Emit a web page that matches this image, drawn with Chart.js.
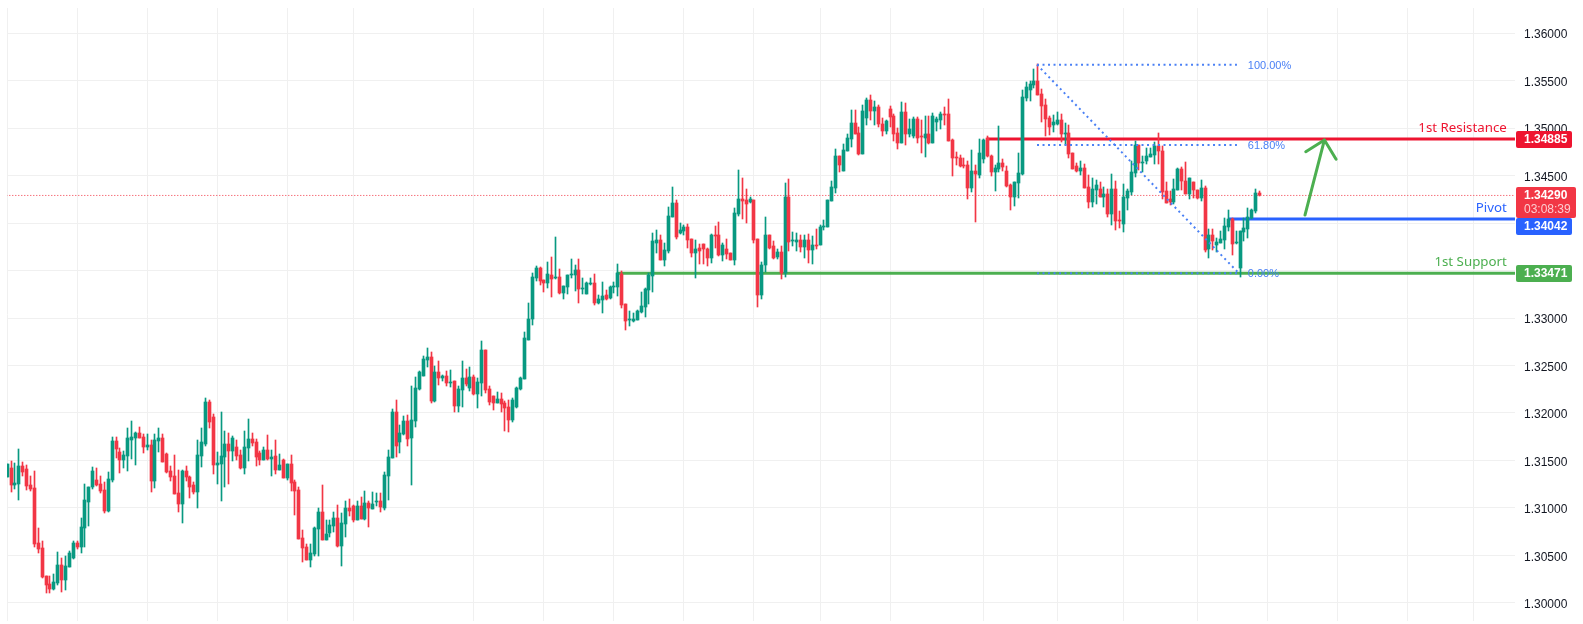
<!DOCTYPE html>
<html>
<head>
<meta charset="utf-8">
<title>Chart</title>
<script src="https://cdn.jsdelivr.net/npm/chart.js@4/dist/chart.umd.min.js"></script>
<style>
  html, body { margin: 0; padding: 0; background: #fff; }
  canvas { display: block; }
</style>
</head>
<body>
<canvas id="chart" width="1583" height="624"></canvas>
<script>
// ====== DATA ======
const opens = [
1.31329,1.31421,1.31242,1.31252,1.31442,1.31410,1.31242,1.31210,1.30631,1.30578,
1.30284,1.30199,1.30147,1.30210,1.30400,1.30242,1.30378,1.30473,1.30631,1.30589,
1.30789,1.31063,1.31221,1.31294,1.31252,1.31189,1.30968,1.31294,1.31705,1.31589,
1.31505,1.31547,1.31715,1.31736,1.31789,1.31747,1.31642,1.31663,1.31284,1.31705,
1.31736,1.31568,1.31389,1.31336,1.31158,1.31042,1.31389,1.31326,1.31242,1.31168,
1.31547,1.31673,1.32115,1.31957,1.31452,1.31463,1.31536,1.31673,1.31600,1.31642,
1.31557,1.31421,1.31631,1.31726,1.31694,1.31579,1.31505,1.31610,1.31515,1.31547,
1.31400,1.31505,1.31315,1.31463,1.31273,1.31189,1.30684,1.30589,1.30452,1.30515,
1.30779,1.30958,1.30663,1.30737,1.30811,1.30895,1.30600,1.30832,1.31000,1.31021,
1.30874,1.31021,1.30884,1.31053,1.30990,1.31063,1.31074,1.31000,1.31337,1.31526,
1.32011,1.31695,1.31779,1.31916,1.31737,1.31916,1.32253,1.32390,1.32558,1.32590,
1.32127,1.32432,1.32369,1.32390,1.32316,1.32337,1.32074,1.32242,1.32369,1.32263,
1.32379,1.32200,1.32316,1.32663,1.32253,1.32179,1.32106,1.32148,1.32106,1.32063,
1.31927,1.32063,1.32253,1.32358,1.32768,1.32989,1.33421,1.33526,1.33400,1.33368,
1.33452,1.33421,1.33431,1.33263,1.33326,1.33452,1.33452,1.33505,1.33305,1.33252,
1.33358,1.33368,1.33158,1.33189,1.33242,1.33210,1.33326,1.33326,1.33463,1.33147,
1.32979,1.32968,1.32979,1.33063,1.33116,1.33294,1.33442,1.33789,1.33821,1.33610,
1.33705,1.34063,1.34210,1.33894,1.33915,1.33958,1.33831,1.33684,1.33737,1.33779,
1.33726,1.33631,1.33873,1.33873,1.33663,1.33726,1.33684,1.33610,1.34095,1.34252,
1.34242,1.34221,1.34242,1.33831,1.33242,1.33558,1.33873,1.33758,1.33642,1.33694,
1.33473,1.34273,1.33810,1.33800,1.33821,1.33747,1.33821,1.33715,1.33768,1.33768,
1.33958,1.33958,1.34231,1.34368,1.34705,1.34547,1.34758,1.34884,1.35052,1.34947,
1.34726,1.35105,1.35294,1.35179,1.35221,1.35042,1.34968,1.35200,1.35126,1.34947,
1.34842,1.35168,1.34937,1.34915,1.35095,1.34915,1.34894,1.34937,1.34842,1.35063,
1.35084,1.35147,1.35147,1.34873,1.34694,1.34684,1.34610,1.34610,1.34368,1.34547,
1.34505,1.34673,1.34894,1.34705,1.34537,1.34568,1.34631,1.34547,1.34400,1.34273,
1.34421,1.34516,1.35316,1.35400,1.35453,1.35495,1.35358,1.35242,1.35105,1.35031,
1.35042,1.35084,1.34937,1.34947,1.34737,1.34600,1.34547,1.34579,1.34379,1.34221,
1.34347,1.34358,1.34274,1.34305,1.34095,1.34358,1.34032,1.33989,1.34263,1.34326,
1.34526,1.34821,1.34632,1.34653,1.34695,1.34716,1.34810,1.34758,1.34337,1.34253,
1.34221,1.34347,1.34568,1.34442,1.34305,1.34432,1.34347,1.34263,1.34368,1.33726,
1.33874,1.33768,1.33789,1.33821,1.33958,1.34042,1.33789,1.33526,1.33905,1.33937,
1.34053,1.34126,1.34316];
const highs = [
1.31463,1.31494,1.31473,1.31621,1.31484,1.31452,1.31336,1.31389,1.30789,1.30652,
1.30284,1.30284,1.30305,1.30536,1.30473,1.30494,1.30547,1.30652,1.30652,1.30894,
1.31252,1.31221,1.31431,1.31421,1.31336,1.31273,1.31379,1.31747,1.31747,1.31631,
1.31600,1.31842,1.31915,1.31800,1.31852,1.31779,1.31779,1.31715,1.31779,1.31842,
1.31779,1.31579,1.31442,1.31557,1.31400,1.31400,1.31442,1.31336,1.31273,1.31715,
1.31842,1.32157,1.32136,1.31989,1.31589,1.32010,1.31810,1.31789,1.31757,1.31715,
1.31610,1.31810,1.31936,1.31789,1.31726,1.31600,1.31642,1.31768,1.31610,1.31715,
1.31568,1.31515,1.31463,1.31557,1.31294,1.31221,1.30768,1.30621,1.30621,1.30800,
1.31000,1.31242,1.30874,1.30874,1.30958,1.31032,1.30947,1.31074,1.31095,1.31032,
1.31074,1.31116,1.31179,1.31074,1.31169,1.31158,1.31158,1.31379,1.31611,1.32042,
1.32137,1.31874,1.31969,1.31979,1.32284,1.32379,1.32442,1.32600,1.32684,1.32642,
1.32495,1.32548,1.32400,1.32442,1.32453,1.32337,1.32284,1.32548,1.32463,1.32484,
1.32400,1.32369,1.32758,1.32663,1.32284,1.32179,1.32221,1.32211,1.32127,1.32137,
1.32158,1.32274,1.32379,1.32853,1.33158,1.33473,1.33547,1.33537,1.33400,1.33589,
1.33642,1.33852,1.33515,1.33337,1.33452,1.33621,1.33558,1.33621,1.33421,1.33379,
1.33421,1.33463,1.33242,1.33379,1.33294,1.33337,1.33379,1.33568,1.33494,1.33147,
1.33073,1.33052,1.33084,1.33273,1.33315,1.33473,1.33894,1.33926,1.33873,1.33789,
1.34168,1.34379,1.34242,1.34000,1.33979,1.33989,1.33831,1.33821,1.33779,1.33779,
1.33737,1.33884,1.33968,1.34010,1.33789,1.33831,1.33684,1.34158,1.34558,1.34473,
1.34358,1.34273,1.34242,1.33831,1.33589,1.34063,1.33873,1.33810,1.33726,1.33758,
1.34421,1.34463,1.33905,1.33894,1.33873,1.33873,1.33884,1.33863,1.33936,1.33979,
1.34031,1.34242,1.34442,1.34779,1.34705,1.34831,1.34937,1.35189,1.35189,1.35010,
1.35242,1.35315,1.35347,1.35284,1.35242,1.35105,1.35084,1.35231,1.35147,1.35000,
1.35273,1.35263,1.35095,1.35116,1.35116,1.35084,1.35126,1.35126,1.35158,1.35116,
1.35168,1.35221,1.35305,1.34884,1.34747,1.34715,1.34684,1.34652,1.34768,1.34610,
1.34884,1.34884,1.34915,1.34715,1.34610,1.35021,1.34673,1.34600,1.34410,1.34431,
1.34737,1.35400,1.35484,1.35495,1.35621,1.35674,1.35410,1.35305,1.35126,1.35137,
1.35168,1.35147,1.35053,1.35031,1.34737,1.34631,1.34653,1.34621,1.34505,1.34474,
1.34453,1.34432,1.34379,1.34358,1.34516,1.34442,1.34126,1.34410,1.34358,1.34653,
1.34863,1.34821,1.34705,1.34789,1.34789,1.34853,1.34947,1.34810,1.34432,1.34337,
1.34463,1.34579,1.34589,1.34642,1.34474,1.34432,1.34347,1.34453,1.34389,1.33937,
1.33937,1.33842,1.33916,1.34053,1.34137,1.34053,1.33916,1.33916,1.34053,1.34158,
1.34147,1.34358,1.34337];
const lows = [
1.31329,1.31168,1.31200,1.31084,1.31336,1.31189,1.31179,1.30589,1.30526,1.30263,
1.30105,1.30105,1.30136,1.30189,1.30115,1.30136,1.30378,1.30463,1.30568,1.30526,
1.30589,1.30810,1.31200,1.31231,1.31158,1.30947,1.30957,1.31273,1.31526,1.31368,
1.31421,1.31389,1.31515,1.31452,1.31736,1.31579,1.31610,1.31168,1.31210,1.31589,
1.31484,1.31368,1.31284,1.31147,1.30957,1.30842,1.31284,1.31105,1.31147,1.31000,
1.31431,1.31652,1.31842,1.31357,1.31252,1.31073,1.31221,1.31252,1.31494,1.31505,
1.31410,1.31357,1.31494,1.31652,1.31442,1.31452,1.31505,1.31505,1.31336,1.31357,
1.31400,1.31315,1.31294,1.31179,1.30926,1.30673,1.30431,1.30452,1.30378,1.30494,
1.30494,1.30663,1.30663,1.30695,1.30748,1.30590,1.30390,1.30695,1.30916,1.30853,
1.30874,1.30884,1.30874,1.30800,1.30990,1.31021,1.30958,1.30979,1.31084,1.31526,
1.31537,1.31579,1.31769,1.31653,1.31242,1.31853,1.32242,1.32390,1.32484,1.32106,
1.32116,1.32295,1.32337,1.32284,1.32274,1.32011,1.32011,1.32063,1.32284,1.32232,
1.32190,1.32053,1.32179,1.32211,1.32084,1.32032,1.32106,1.32011,1.31811,1.31800,
1.31906,1.32053,1.32242,1.32358,1.32768,1.32926,1.33389,1.33347,1.33273,1.33315,
1.33221,1.33410,1.33252,1.33200,1.33252,1.33421,1.33284,1.33158,1.33252,1.33252,
1.33347,1.33137,1.33147,1.33052,1.33189,1.33200,1.33263,1.33231,1.33105,1.32873,
1.32916,1.32958,1.32979,1.33052,1.33010,1.33147,1.33273,1.33684,1.33610,1.33547,
1.33684,1.34063,1.33831,1.33884,1.33873,1.33737,1.33642,1.33421,1.33568,1.33568,
1.33547,1.33579,1.33737,1.33652,1.33600,1.33621,1.33610,1.33558,1.34073,1.34042,
1.34000,1.34210,1.33789,1.33116,1.33200,1.33484,1.33726,1.33621,1.33621,1.33410,
1.33431,1.33705,1.33758,1.33705,1.33694,1.33631,1.33579,1.33568,1.33726,1.33768,
1.33926,1.33958,1.34231,1.34316,1.34537,1.34547,1.34758,1.34800,1.34937,1.34715,
1.34726,1.35031,1.35084,1.35031,1.35010,1.34915,1.34937,1.35010,1.34863,1.34779,
1.34842,1.34821,1.34905,1.34894,1.34842,1.34737,1.34694,1.34831,1.34842,1.34968,
1.34989,1.35031,1.34863,1.34494,1.34610,1.34589,1.34579,1.34252,1.34326,1.34010,
1.34473,1.34631,1.34694,1.34494,1.34337,1.34537,1.34547,1.34379,1.34137,1.34179,
1.34263,1.34505,1.35284,1.35284,1.35421,1.35347,1.35063,1.34916,1.34926,1.34958,
1.35031,1.34853,1.34821,1.34684,1.34568,1.34537,1.34505,1.34368,1.34158,1.34168,
1.34200,1.34274,1.34168,1.34063,1.33979,1.33926,1.33947,1.33905,1.34137,1.34295,
1.34484,1.34558,1.34537,1.34621,1.34695,1.34621,1.34621,1.34253,1.34210,1.34189,
1.34200,1.34347,1.34347,1.34305,1.34253,1.34263,1.34253,1.34232,1.33695,1.33632,
1.33716,1.33695,1.33789,1.33726,1.33916,1.33663,1.33779,1.33431,1.33810,1.33842,
1.34042,1.34105,1.34284];
const closes = [
1.31463,1.31242,1.31263,1.31442,1.31379,1.31231,1.31200,1.30621,1.30568,1.30273,
1.30189,1.30147,1.30221,1.30400,1.30242,1.30389,1.30526,1.30631,1.30589,1.30800,
1.31084,1.31221,1.31389,1.31242,1.31179,1.30968,1.31305,1.31705,1.31621,1.31505,
1.31557,1.31736,1.31747,1.31789,1.31736,1.31642,1.31663,1.31284,1.31715,1.31736,
1.31484,1.31379,1.31326,1.31147,1.31042,1.31389,1.31326,1.31221,1.31168,1.31557,
1.31694,1.32115,1.31905,1.31452,1.31473,1.31547,1.31673,1.31600,1.31736,1.31547,
1.31421,1.31642,1.31726,1.31684,1.31536,1.31505,1.31610,1.31515,1.31536,1.31400,
1.31452,1.31315,1.31463,1.31263,1.31179,1.30673,1.30578,1.30452,1.30526,1.30789,
1.30958,1.30663,1.30726,1.30821,1.30895,1.30600,1.30842,1.31000,1.30969,1.30874,
1.31021,1.30884,1.31053,1.31000,1.31042,1.31074,1.31011,1.31348,1.31537,1.32011,
1.31653,1.31790,1.31916,1.31727,1.31927,1.32263,1.32432,1.32569,1.32590,1.32127,
1.32432,1.32369,1.32390,1.32316,1.32327,1.32074,1.32253,1.32369,1.32306,1.32379,
1.32200,1.32327,1.32663,1.32242,1.32116,1.32106,1.32148,1.32095,1.32053,1.31927,
1.32137,1.32263,1.32369,1.32790,1.32989,1.33431,1.33526,1.33389,1.33368,1.33463,
1.33410,1.33431,1.33263,1.33337,1.33452,1.33463,1.33505,1.33305,1.33315,1.33368,
1.33368,1.33158,1.33200,1.33231,1.33200,1.33326,1.33337,1.33473,1.33137,1.32968,
1.32989,1.32989,1.33073,1.33126,1.33305,1.33452,1.33810,1.33821,1.33610,1.33715,
1.34073,1.34210,1.33852,1.33926,1.33958,1.33821,1.33684,1.33726,1.33705,1.33726,
1.33631,1.33873,1.33863,1.33663,1.33768,1.33673,1.33610,1.34105,1.34252,1.34231,
1.34200,1.34252,1.33821,1.33242,1.33558,1.33873,1.33737,1.33631,1.33694,1.33473,
1.34273,1.33800,1.33821,1.33821,1.33747,1.33821,1.33715,1.33768,1.33758,1.33958,
1.33968,1.34242,1.34379,1.34705,1.34610,1.34768,1.34894,1.35052,1.34937,1.34726,
1.35179,1.35294,1.35179,1.35221,1.35042,1.34968,1.35073,1.35116,1.34937,1.34842,
1.35168,1.34937,1.34989,1.35095,1.34894,1.34905,1.34937,1.34842,1.35126,1.35095,
1.35147,1.35137,1.34863,1.34684,1.34684,1.34600,1.34600,1.34368,1.34547,1.34515,
1.34737,1.34873,1.34705,1.34537,1.34579,1.34631,1.34589,1.34389,1.34273,1.34431,
1.34526,1.35326,1.35431,1.35463,1.35495,1.35347,1.35231,1.35095,1.35010,1.35063,
1.35084,1.34937,1.34947,1.34726,1.34568,1.34547,1.34579,1.34368,1.34221,1.34358,
1.34400,1.34274,1.34305,1.34095,1.34358,1.34021,1.34021,1.34274,1.34337,1.34537,
1.34821,1.34632,1.34642,1.34705,1.34726,1.34810,1.34758,1.34326,1.34210,1.34221,
1.34358,1.34568,1.34442,1.34305,1.34474,1.34347,1.34263,1.34368,1.33716,1.33874,
1.33810,1.33800,1.33832,1.33968,1.34042,1.33779,1.33800,1.33916,1.33947,1.34063,
1.34137,1.34316,1.34290];

const priceTicks = [1.30,1.305,1.31,1.315,1.32,1.325,1.33,1.335,1.34,1.345,1.35,1.355,1.36];
const timeGrid = [0,18,36,54,72,89,120,138,156,174,192,209,227,251,270,287,306,324,342,360,377];

const resistance = 1.34885, pivot = 1.34042, support = 1.33471, lastPrice = 1.3429;
const fibHigh = 1.35666, fib618 = 1.34821, fibLow = 1.33471;
const countdown = "03:08:39";

// ====== COLOURS ======
const UP = "#089981", DOWN = "#f23645", RED = "#ee1430", BLUE = "#2962ff", GREEN = "#4caf50", FIB = "#4a80f5";
const FONT = "'Liberation Sans', sans-serif";

// ====== DATASETS ======
const candleColors = closes.map((c, i) => c >= opens[i] ? UP : DOWN);

function hline(y, from, to, color, width, dash, order) {
  return {
    type: "line",
    data: [{ x: from, y }, { x: to, y }],
    borderColor: color, borderWidth: width, borderDash: dash || [],
    pointRadius: 0, order
  };
}
function polyline(points, color, width, dash, order, cap) {
  return {
    type: "line",
    data: points,
    borderColor: color, borderWidth: width, borderDash: dash || [],
    borderCapStyle: cap || "butt", borderJoinStyle: "round",
    pointRadius: 0, tension: 0, order
  };
}

const X_MAX = 387.7;

const datasets = [
  {
    label: "bodies",
    data: opens.map((o, i) => ({ x: i, y: [o, closes[i]] })),
    backgroundColor: candleColors, barThickness: 3, grouped: false, order: 2
  },
  {
    label: "wicks",
    data: lows.map((l, i) => ({ x: i, y: [l, highs[i]] })),
    backgroundColor: candleColors, barThickness: 1, grouped: false, order: 3
  },
  hline(lastPrice, -1, X_MAX, DOWN, 1, [1, 2], 6),
  hline(resistance, 251.9, X_MAX, RED, 3, null, 5),
  hline(pivot, 313.9, X_MAX, BLUE, 3, null, 5),
  hline(support, 156.7, X_MAX, GREEN, 3, null, 5),
  hline(fibHigh, 264.8, 316.2, FIB, 2, [2, 3.5], 1),
  hline(fib618, 264.8, 316.2, FIB, 2, [2, 3.5], 1),
  hline(fibLow, 264.8, 316.2, FIB, 2, [2, 3.5], 1),
  polyline([{ x: 264.8, y: fibHigh }, { x: 316.7, y: fibLow }], FIB, 2, [2, 3.5], 1),
  polyline([{ x: 333.7, y: 1.34084 }, { x: 338.7, y: 1.34874 }], GREEN, 3, null, 0, "round"),
  polyline([{ x: 333.9, y: 1.34751 }, { x: 338.7, y: 1.34874 }, { x: 341.7, y: 1.34671 }], GREEN, 3, null, 0, "round")
];

// ====== PLUGINS ======
// keeps candles on whole pixels like the original
const snapPlugin = {
  id: "snap",
  beforeDatasetDraw(chart, args) {
    const meta = chart.getDatasetMeta(args.index);
    if (meta.type !== "bar") return;
    meta.data.forEach(el => {
      el.x = Math.floor(el.x) + 0.5;
      let top = Math.round(Math.min(el.y, el.base));
      let bottom = Math.round(Math.max(el.y, el.base));
      if (bottom === top) bottom = top + 1;
      el.y = top;
      el.base = bottom;
    });
  }
};

function badge(ctx, x, y, w, h, color) {
  ctx.fillStyle = color;
  ctx.beginPath();
  ctx.roundRect(x, y, w, h, 2);
  ctx.fill();
}

const labelsPlugin = {
  id: "labels",
  afterDraw(chart) {
    const { ctx, scales: { x, y }, chartArea } = chart;
    const left = chartArea.right + 1;

    ctx.save();
    // fib labels
    ctx.font = "11px " + FONT;
    ctx.textAlign = "left";
    ctx.textBaseline = "middle";
    ctx.fillStyle = FIB;
    const fibX = x.getPixelForValue(319);
    ctx.fillText("100.00%", fibX, y.getPixelForValue(fibHigh) + 1);
    ctx.fillText("61.80%", fibX, y.getPixelForValue(fib618) + 1);
    ctx.fillText("0.00%", fibX, y.getPixelForValue(fibLow) + 1);

    // level names
    ctx.font = "13.3px 'Noto Sans', sans-serif";
    ctx.textAlign = "right";
    ctx.textBaseline = "alphabetic";
    const nameX = x.getPixelForValue(385.6);
    ctx.fillStyle = RED;
    ctx.fillText("1st Resistance", nameX, y.getPixelForValue(resistance) - 7);
    ctx.fillStyle = BLUE;
    ctx.fillText("Pivot", nameX, y.getPixelForValue(pivot) - 7);
    ctx.fillStyle = GREEN;
    ctx.fillText("1st Support", nameX, y.getPixelForValue(support) - 7);

    // price badges, shift moves one out of the way of the last price badge
    const levelBadge = (price, color, shift) => {
      const py = Math.round(y.getPixelForValue(price)) + (shift || 0);
      badge(ctx, left, py - 8, 56, 17, color);
      ctx.fillStyle = "#fff";
      ctx.font = "bold 12px " + FONT;
      ctx.textAlign = "left";
      ctx.textBaseline = "middle";
      ctx.fillText(price.toFixed(5), left + 8, py + 1);
    };

    const lastY = Math.round(y.getPixelForValue(lastPrice));
    badge(ctx, left, lastY - 8, 60, 31, DOWN);
    ctx.textAlign = "left";
    ctx.textBaseline = "middle";
    ctx.fillStyle = "#fff";
    ctx.font = "bold 12px " + FONT;
    ctx.fillText(lastPrice.toFixed(5), left + 8, lastY + 1);
    ctx.fillStyle = "rgba(255,255,255,0.75)";
    ctx.font = "12px " + FONT;
    ctx.fillText(countdown, left + 8, lastY + 15);

    levelBadge(resistance, RED);
    levelBadge(pivot, BLUE, 7);
    levelBadge(support, GREEN);
    ctx.restore();
  }
};

// ====== CHART ======
new Chart(document.getElementById("chart"), {
  type: "bar",
  data: { datasets },
  plugins: [snapPlugin, labelsPlugin],
  options: {
    responsive: false,
    animation: false,
    devicePixelRatio: 1,
    layout: { padding: { left: 7, top: 8, right: 0, bottom: 3 } },
    plugins: { legend: { display: false }, tooltip: { enabled: false } },
    scales: {
      x: {
        type: "linear",
        min: -0.05,
        max: X_MAX,
        offset: false,
        border: { display: false },
        grid: { color: "#f0f0f0", offset: false, drawTicks: false },
        ticks: { display: false },
        afterBuildTicks: axis => { axis.ticks = timeGrid.map(value => ({ value })); },
        afterFit: axis => { axis.height = 0; axis.paddingLeft = 0; axis.paddingRight = 0; }
      },
      y: {
        position: "right",
        min: 1.298105,
        max: 1.362632,
        border: { display: false },
        grid: { color: "#f0f0f0", drawTicks: false },
        ticks: {
          padding: 9,
          labelOffset: 2,
          color: "#131722",
          font: { family: FONT, size: 12 },
          callback: v => v.toFixed(5)
        },
        afterBuildTicks: axis => { axis.ticks = priceTicks.map(value => ({ value })); },
        afterFit: axis => { axis.width = 68; axis.paddingTop = 0; axis.paddingBottom = 0; }
      }
    }
  }
});
</script>
</body>
</html>
